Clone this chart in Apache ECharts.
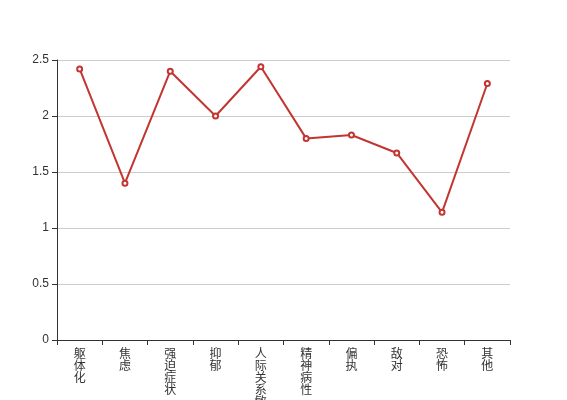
<!DOCTYPE html>
<html>
<head>
<meta charset="utf-8">
<script src="https://cdn.jsdelivr.net/npm/echarts@6/dist/echarts.min.js"></script>
<style>html,body{margin:0;padding:0;background:#fff}#c{width:567px;height:400px}</style>
</head>
<body>
<div id="c"></div>
<script>
var categories = ['躯体化', '焦虑', '强迫症状', '抑郁', '人际关系敏感', '精神病性', '偏执', '敌对', '恐怖', '其他'];
var values = [2.42, 1.40, 2.40, 2.00, 2.44, 1.80, 1.83, 1.67, 1.14, 2.29];
var yTicks = [0, 0.5, 1, 1.5, 2, 2.5];

var chart = echarts.init(document.getElementById('c'));
chart.setOption({
  animation: false,
  grid: { left: 57, right: 57, top: 60, bottom: 60, containLabel: false, outerBoundsMode: 'none' },
  xAxis: {
    type: 'category',
    data: categories,
    boundaryGap: true,
    axisLine: { lineStyle: { color: '#333' } },
    axisTick: { show: true, alignWithLabel: false, lineStyle: { color: '#333' } },
    axisLabel: {
      interval: 0,
      color: '#333',
      fontSize: 12,
      lineHeight: 12,
      margin: 7,
      fontFamily: '"Noto Sans CJK SC", sans-serif',
      formatter: function (v) { return v.split('').join('\n'); }
    }
  },
  yAxis: {
    type: 'value',
    min: 0, max: 2.5, interval: 0.5,
    axisLine: { show: true, lineStyle: { color: '#333' } },
    axisTick: { show: true, lineStyle: { color: '#333' } },
    axisLabel: {
      color: '#333', fontSize: 12, fontFamily: 'sans-serif',
      formatter: function (v) { return yTicks.indexOf(v) >= 0 ? String(v) : ''; }
    },
    splitLine: { lineStyle: { color: '#ccc' } }
  },
  series: [{
    type: 'line',
    data: values,
    symbol: 'emptyCircle',
    symbolSize: 5,
    itemStyle: { color: '#c23531', borderWidth: 1 },
    lineStyle: { color: '#c23531', width: 2 }
  }]
});
</script>
</body>
</html>
